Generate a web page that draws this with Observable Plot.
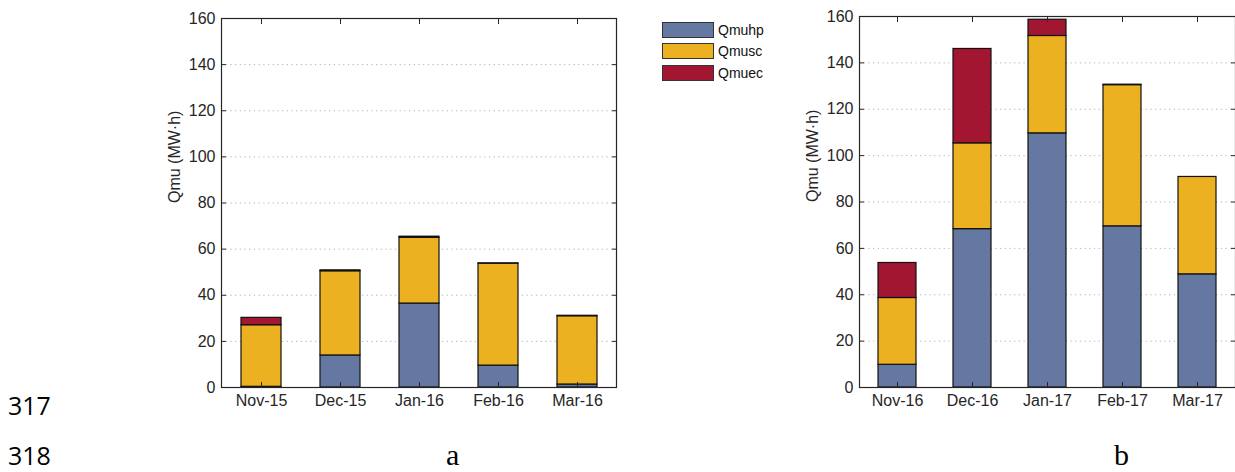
<!DOCTYPE html>
<html>
<head>
<meta charset="utf-8">
<script src="https://cdn.jsdelivr.net/npm/d3@7"></script>
<script src="https://cdn.jsdelivr.net/npm/@observablehq/plot@0.6"></script>
<style>
  html, body { margin: 0; padding: 0; background: #fff; overflow: hidden; }
  #page { position: relative; width: 1235px; height: 472px; }
  .chart { position: absolute; top: 0; }
  .legend { position: absolute; left: 662px; top: 22px; font-family: "Liberation Sans", Arial, sans-serif; font-size: 14px; color: #111; }
  .legend .row { display: flex; align-items: center; height: 21.5px; }
  .legend .sw { width: 50px; height: 14px; border: 1px solid #333; margin-right: 4px; box-sizing: content-box; }
  .lbl { position: absolute; line-height: 0.8; }
  .num { font-family: "Open Sans", "Noto Sans", sans-serif; font-size: 25px; color: #000; }
  .sub { font-family: "Liberation Serif", "Times New Roman", serif; font-size: 30px; color: #000; }
</style>
</head>
<body>
<div id="page"></div>
<script>
// ---- data ----
const seriesNames = ["Qmuhp", "Qmusc", "Qmuec"];
const seriesColors = ["#6478A2", "#EBB120", "#A31631"];

const monthsA = ["Nov-15", "Dec-15", "Jan-16", "Feb-16", "Mar-16"];
const qmuhpA = [0.3, 13.9, 36.4, 9.5, 1.3];
const qmuscA = [26.7, 36.5, 28.5, 44.2, 29.6];
const qmuecA = [3.2, 0.4, 0.5, 0.1, 0.2];

const monthsB = ["Nov-16", "Dec-16", "Jan-17", "Feb-17", "Mar-17"];
const qmuhpB = [9.8, 68.3, 109.6, 69.5, 48.8];
const qmuscB = [28.8, 37.0, 42.0, 60.9, 42.0];
const qmuecB = [15.1, 40.7, 7.0, 0.2, 0.0];

const yTicks = [0, 20, 40, 60, 80, 100, 120, 140, 160];
const gridTicks = [20, 40, 60, 80, 100, 120, 140];
const yLabel = "Qmu (MW·h)";

function rowsOf(months, hp, sc, ec) {
  const rows = [];
  [hp, sc, ec].forEach((vals, s) => {
    months.forEach((m, i) => rows.push({month: m, series: seriesNames[s], value: vals[i]}));
  });
  return rows;
}

function chart(months, hp, sc, ec, opts) {
  const rows = rowsOf(months, hp, sc, ec);
  const axisColor = "#262626";
  return Plot.plot({
    width: opts.width,
    height: 420,
    marginLeft: opts.marginLeft,
    marginRight: opts.marginRight,
    marginTop: opts.marginTop,
    marginBottom: 33,
    x: {domain: months, paddingInner: 0.5, paddingOuter: 0.25, label: null},
    y: {domain: [0, 160], label: null},
    color: {domain: seriesNames, range: seriesColors},
    style: {fontFamily: "'Liberation Sans', Arial, sans-serif", fontSize: "16px", color: axisColor, background: "transparent", overflow: "visible"},
    marks: [
      Plot.gridY(gridTicks, {stroke: "#a8a8a8", strokeOpacity: 0.9, strokeDasharray: "1.2,3.5"}),
      Plot.barY(rows, {x: "month", y: "value", fill: "series", stroke: "#111", strokeWidth: 1.2, order: seriesNames}),
      Plot.frame({stroke: axisColor, strokeWidth: 1.2}),
      Plot.axisY(yTicks, {anchor: "left", tickSize: -5, tickPadding: 11, stroke: axisColor, fill: axisColor, label: null}),
      Plot.axisY(yTicks, {anchor: "right", tickSize: -5, tickFormat: () => "", stroke: axisColor, label: null}),
      Plot.axisX(months, {anchor: "bottom", tickSize: -5, tickPadding: 12, stroke: axisColor, fill: axisColor, label: null}),
      Plot.axisX(months, {anchor: "top", tickSize: -5, tickFormat: () => "", stroke: axisColor, label: null}),
      Plot.text([yLabel], {frameAnchor: "left", rotate: -90, dx: -47, text: d => d, fontSize: 16, fill: axisColor})
    ]
  });
}

const page = document.getElementById("page");

const a = chart(monthsA, qmuhpA, qmuscA, qmuecA, {width: 480, marginLeft: 71, marginRight: 14, marginTop: 18});
a.classList.add("chart");
a.style.left = "150px";
page.appendChild(a);

const b = chart(monthsB, qmuhpB, qmuscB, qmuecB, {width: 445, marginLeft: 69, marginRight: 0, marginTop: 16});
b.classList.add("chart");
b.style.left = "790px";
page.appendChild(b);

// legend
const legend = document.createElement("div");
legend.className = "legend";
seriesNames.forEach((name, i) => {
  const row = document.createElement("div");
  row.className = "row";
  const sw = document.createElement("div");
  sw.className = "sw";
  sw.style.background = seriesColors[i];
  const t = document.createElement("span");
  t.textContent = name;
  row.appendChild(sw);
  row.appendChild(t);
  legend.appendChild(row);
});
legend.style.top = "19px";
page.appendChild(legend);

// page labels
const labels = [
  {text: "317", cls: "num", left: 8, top: 395},
  {text: "318", cls: "num", left: 8, top: 445},
  {text: "a", cls: "sub", left: 446, top: 443},
  {text: "b", cls: "sub", left: 1114, top: 443}
];
labels.forEach(l => {
  const d = document.createElement("div");
  d.className = "lbl " + l.cls;
  d.textContent = l.text;
  d.style.left = l.left + "px";
  d.style.top = l.top + "px";
  page.appendChild(d);
});
</script>
</body>
</html>
